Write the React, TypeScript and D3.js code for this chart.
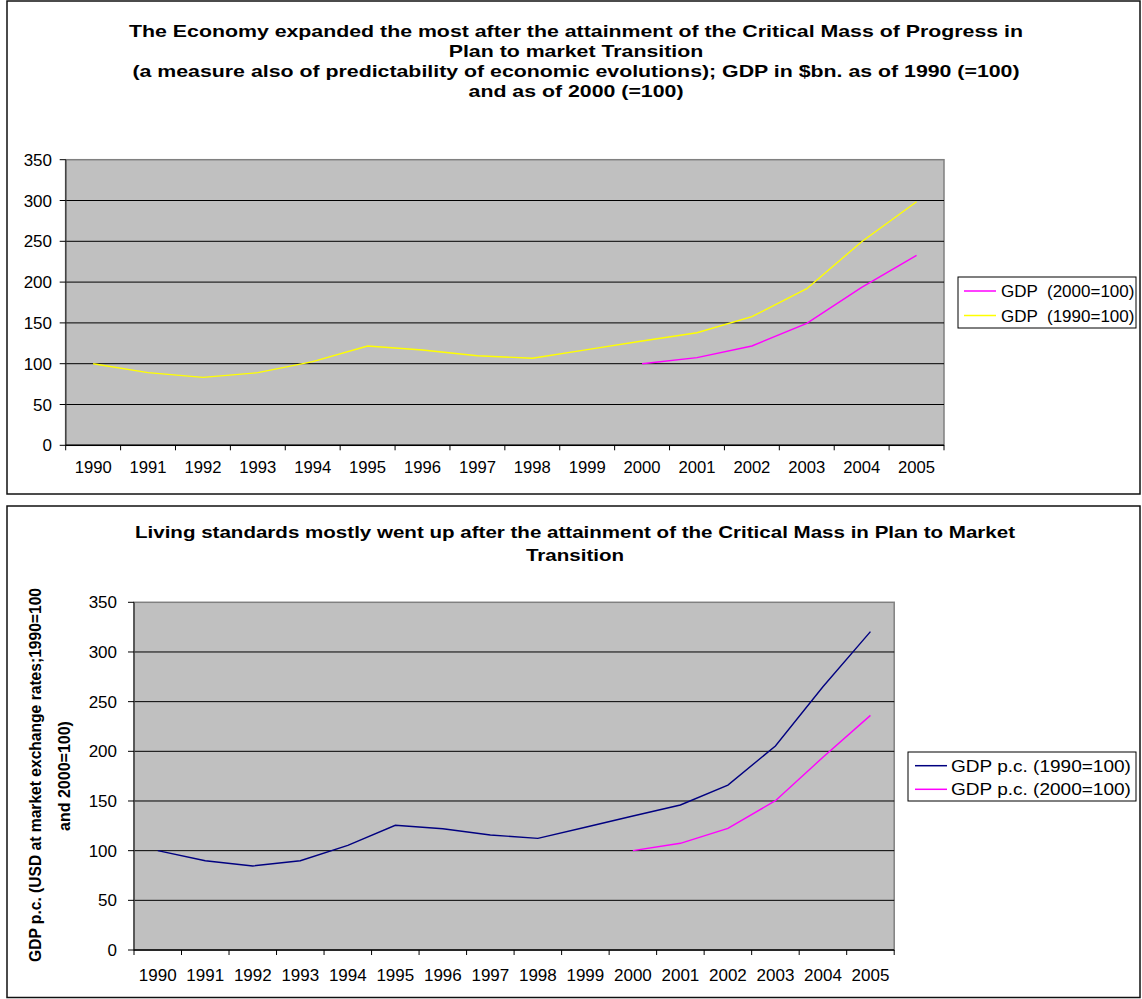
import React from "react";
import * as d3 from "d3";

const years = ["1990","1991","1992","1993","1994","1995","1996","1997","1998","1999","2000","2001","2002","2003","2004","2005"];
const gdp1990: (number | null)[] = [100, 89, 83.3, 89, 102.5, 121.7, 116.8, 109.8, 106.6, 117.2, 127.8, 138, 157.6, 191.9, 249.5, 298.5];
const gdp2000: (number | null)[] = [null, null, null, null, null, null, null, null, null, null, 100, 107.4, 121.7, 149.4, 193.5, 232.7];
const gdppc1990: (number | null)[] = [100, 89.9, 84.6, 89.9, 105.4, 125.5, 122.1, 115.8, 112.4, 123.6, 134.9, 146, 166, 205.4, 265, 320.5];
const gdppc2000: (number | null)[] = [null, null, null, null, null, null, null, null, null, null, 100, 107.4, 122.5, 150.3, 194, 236.2];
const yTicks = [0, 50, 100, 150, 200, 250, 300, 350];

const title1 = [
  "The Economy expanded the most after the attainment of the Critical Mass of Progress in",
  "Plan to market Transition",
  "(a measure also of predictability of economic evolutions); GDP in $bn. as of 1990 (=100)",
  "and as of 2000 (=100)",
];
const title2 = [
  "Living standards mostly went up after the attainment of the Critical Mass in Plan to Market",
  "Transition",
];
const legend1 = [
  { name: "GDP  (2000=100)", values: gdp2000, color: "#FF00FF" },
  { name: "GDP  (1990=100)", values: gdp1990, color: "#FFFF00" },
];
const legend2 = [
  { name: "GDP p.c. (1990=100)", values: gdppc1990, color: "#000080" },
  { name: "GDP p.c. (2000=100)", values: gdppc2000, color: "#FF00FF" },
];
const yTitle2 = ["GDP p.c. (USD at market exchange rates;1990=100", "and 2000=100)"];

const FONT = "Arial, 'Liberation Sans', sans-serif";

type Series = { name: string; values: (number | null)[]; color: string };

function Plot(props: {
  left: number; top: number; right: number; bottom: number;
  drawOrder: Series[];
  yFont: number; xFont: number; xBaseline: number; yLabelRight: number; xStretch: number;
}) {
  const { left, top, right, bottom, drawOrder, yFont, xFont, xBaseline, yLabelRight, xStretch } = props;
  const x = d3.scaleBand<string>().domain(years).range([left, right]).padding(0);
  const y = d3.scaleLinear().domain([0, 350]).range([bottom, top]);
  const line = d3.line<number | null>()
    .defined((d) => d !== null)
    .x((_, i) => (x(years[i]) as number) + x.bandwidth() / 2)
    .y((d) => y(d as number));
  const bounds = [...years.map((yr) => x(yr) as number), right];
  return (
    <g>
      <rect x={left} y={top} width={right - left} height={bottom - top} fill="#C0C0C0" stroke="#808080" strokeWidth={1.5} />
      {yTicks.filter((t) => t > 0 && t < 350).map((t) => (
        <line key={"g" + t} x1={left} x2={right} y1={y(t)} y2={y(t)} stroke="#000" strokeWidth={1} />
      ))}
      <line x1={left} x2={left} y1={top} y2={bottom} stroke="#444" strokeWidth={1.5} />
      <line x1={left} x2={right} y1={bottom} y2={bottom} stroke="#000" strokeWidth={1.5} />
      {yTicks.map((t) => (
        <g key={"yt" + t}>
          <line x1={left - 6} x2={left} y1={y(t)} y2={y(t)} stroke="#000" strokeWidth={1} />
          <text x={yLabelRight} y={y(t) + yFont * 0.36} textAnchor="end" fontSize={yFont} fontFamily={FONT} fill="#000">{t}</text>
        </g>
      ))}
      {bounds.map((b, i) => (
        <line key={"xt" + i} x1={b} x2={b} y1={bottom} y2={bottom + 5} stroke="#000" strokeWidth={1} />
      ))}
      {years.map((yr) => {
        const cx = (x(yr) as number) + x.bandwidth() / 2;
        return (
          <text key={"xl" + yr} transform={`translate(${cx},${xBaseline}) scale(${xStretch},1)`} textAnchor="middle" fontSize={xFont} fontFamily={FONT} fill="#000">{yr}</text>
        );
      })}
      {drawOrder.map((s) => (
        <path key={"p" + s.name} d={line(s.values) || ""} fill="none" stroke={s.color} strokeWidth={1.4} />
      ))}
    </g>
  );
}

export default function App() {
  return (
    <div style={{ position: "absolute", left: 0, top: 0 }}>
      <svg width={1142} height={999} style={{ display: "block", background: "#fff" }}>
        {/* Top panel */}
        <rect x={7} y={1} width={1133} height={493} fill="#fff" stroke="#111" strokeWidth={1.5} />
        {title1.map((t, i) => (
          <text key={"t1" + i} transform={`translate(576,${37 + i * 20}) scale(1.255,1)`} textAnchor="middle" fontSize={17} fontWeight="bold" fontFamily={FONT} fill="#000">{t}</text>
        ))}
        <Plot left={65.7} top={159.7} right={944} bottom={445.3} drawOrder={[legend1[1], legend1[0]]}
          yFont={17} xFont={16} xBaseline={473.3} yLabelRight={52} xStretch={1.04} />
        <rect x={958} y={277} width={178} height={51} fill="#fff" stroke="#000" strokeWidth={1} />
        {legend1.map((s, i) => (
          <g key={"l1" + i}>
            <line x1={964} x2={996} y1={291 + i * 24.5} y2={291 + i * 24.5} stroke={s.color} strokeWidth={1.5} />
            <text transform={`translate(1001,${297 + i * 24.5})`} fontSize={17} fontFamily={FONT} fill="#000" style={{ whiteSpace: "pre" }}>{s.name}</text>
          </g>
        ))}

        {/* Bottom panel */}
        <rect x={7} y={506} width={1133} height={491.5} fill="#fff" stroke="#111" strokeWidth={1.5} />
        {title2.map((t, i) => (
          <text key={"t2" + i} transform={`translate(575,${537.5 + i * 23.5}) scale(1.285,1)`} textAnchor="middle" fontSize={16} fontWeight="bold" fontFamily={FONT} fill="#000">{t}</text>
        ))}
        <text transform={`translate(41,775) rotate(-90)`} textAnchor="middle" fontSize={16} fontWeight="bold" fontFamily={FONT} fill="#000" textLength={374} lengthAdjust="spacingAndGlyphs">{yTitle2[0]}</text>
        <text transform={`translate(70,776) rotate(-90)`} textAnchor="middle" fontSize={16} fontWeight="bold" fontFamily={FONT} fill="#000">{yTitle2[1]}</text>
        <Plot left={134} top={602.3} right={894.2} bottom={950} drawOrder={[legend2[0], legend2[1]]}
          yFont={17} xFont={17} xBaseline={980.7} yLabelRight={117} xStretch={1} />
        <rect x={908} y={752} width={228} height={49} fill="#fff" stroke="#000" strokeWidth={1} />
        {legend2.map((s, i) => (
          <g key={"l2" + i}>
            <line x1={915} x2={947} y1={765.7 + i * 23.6} y2={765.7 + i * 23.6} stroke={s.color} strokeWidth={1.5} />
            <text transform={`translate(951,${771.8 + i * 23.6}) scale(1.12,1)`} fontSize={17} fontFamily={FONT} fill="#000">{s.name}</text>
          </g>
        ))}
      </svg>
    </div>
  );
}
